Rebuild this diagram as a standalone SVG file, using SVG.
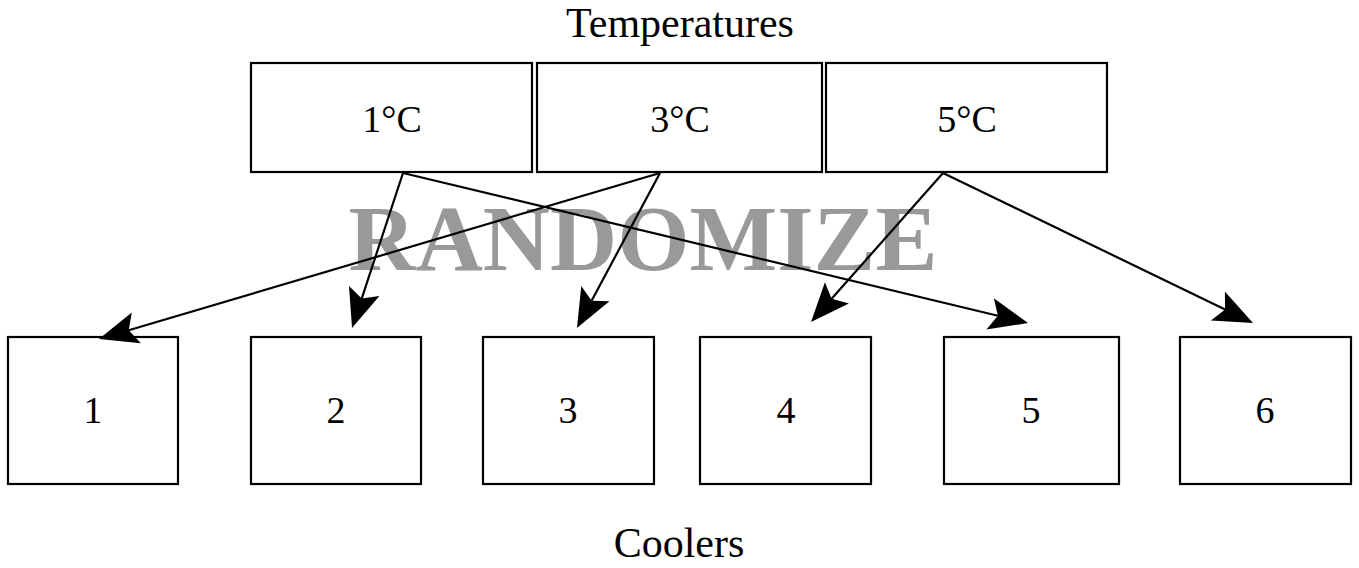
<svg xmlns="http://www.w3.org/2000/svg" width="1359" height="568" viewBox="0 0 1359 568">
<defs>
<style>
.box{fill:#fff;stroke:#000;stroke-width:2.2}
.lbl{font-family:"Liberation Serif",serif;font-size:38px;fill:#000;text-anchor:middle}
.ttl{font-family:"Liberation Serif",serif;font-size:42px;fill:#000;text-anchor:middle}
.wm{font-family:"Liberation Serif",serif;font-size:93px;font-weight:bold;fill:#999;text-anchor:middle}
.edge{stroke:#000;stroke-width:2.2;fill:none;marker-end:url(#ah)}
</style>
<marker id="ah" markerUnits="userSpaceOnUse" markerWidth="60" markerHeight="40" viewBox="-20 -20 60 40" refX="0" refY="0" orient="auto">
<path d="M31,0 L-8,-16 L0,0 L-8,16 Z" fill="#000"/>
</marker>
</defs>
<rect width="1359" height="568" fill="#fff"/>
<text class="ttl" x="680" y="37">Temperatures</text>
<text class="ttl" x="679" y="557">Coolers</text>
<g id="t1"><rect class="box" x="251" y="63" width="281" height="109"/><text class="lbl" x="392" y="132">1°C</text></g>
<g id="t3"><rect class="box" x="537" y="63" width="285" height="109"/><text class="lbl" x="680" y="132">3°C</text></g>
<g id="t5"><rect class="box" x="826" y="63" width="281" height="109"/><text class="lbl" x="967" y="132">5°C</text></g>
<g id="c1"><rect class="box" x="8" y="337" width="170" height="147"/><text class="lbl" x="93" y="423">1</text></g>
<g id="c2"><rect class="box" x="251" y="337" width="170" height="147"/><text class="lbl" x="336" y="423">2</text></g>
<g id="c3"><rect class="box" x="483" y="337" width="171" height="147"/><text class="lbl" x="568" y="423">3</text></g>
<g id="c4"><rect class="box" x="700" y="337" width="171" height="147"/><text class="lbl" x="786" y="423">4</text></g>
<g id="c5"><rect class="box" x="944" y="337" width="175" height="147"/><text class="lbl" x="1031" y="423">5</text></g>
<g id="c6"><rect class="box" x="1180" y="337" width="171" height="147"/><text class="lbl" x="1265" y="423">6</text></g>
<text class="wm" x="643" y="270">RANDOMIZE</text>
<g id="connectors">
<line class="edge" x1="403" y1="173" x2="997.9" y2="315.8"/>
<line class="edge" x1="660" y1="173" x2="128.7" y2="330.2"/>
<line class="edge" x1="403" y1="173" x2="361.7" y2="298.6"/>
<line class="edge" x1="660" y1="173" x2="591.6" y2="300.7"/>
<line class="edge" x1="943" y1="173" x2="831.6" y2="298.8"/>
<line class="edge" x1="943" y1="173" x2="1225.1" y2="309.5"/>
</g>
</svg>
